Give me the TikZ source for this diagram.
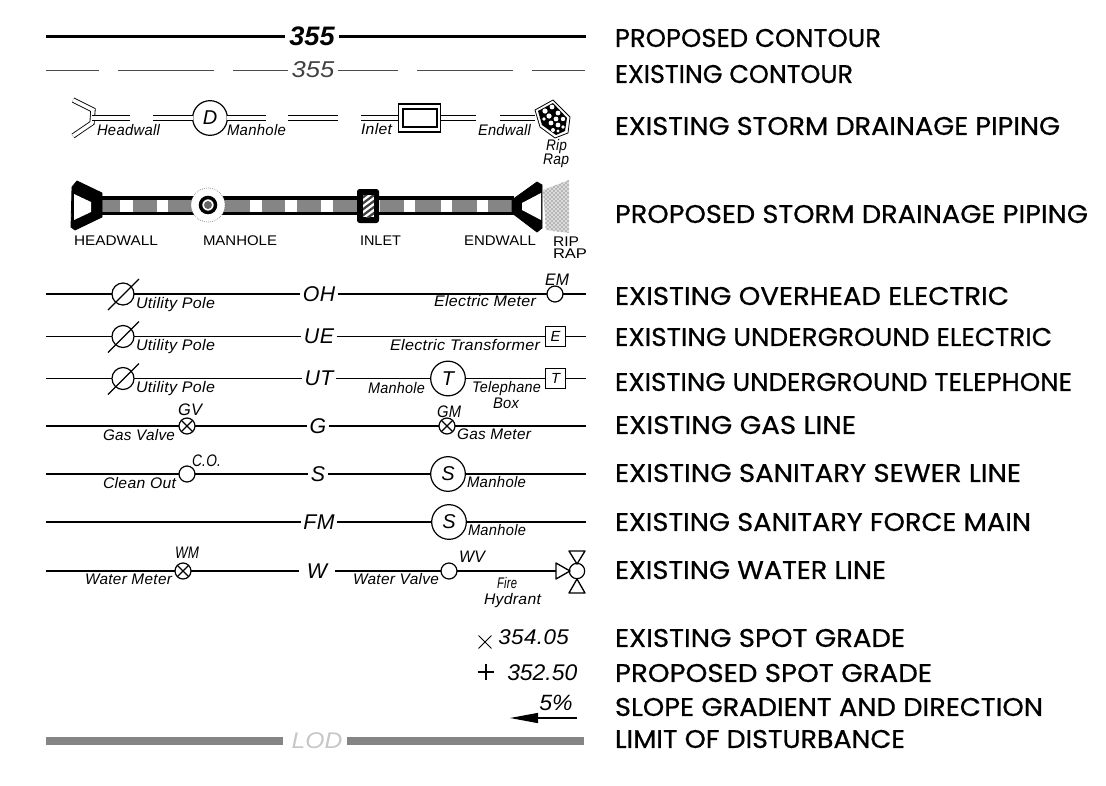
\documentclass[tikz,border=0pt]{standalone}
\usepackage{fontspec}
\usepackage{graphicx}
\usetikzlibrary{shapes.misc,arrows.meta,patterns}
\setmainfont{Liberation Sans}
\newfontfamily\handf[FakeBold=0.7]{Poppins}
\newfontfamily\labf[LetterSpace=2]{Liberation Sans}
\tikzset{
  plain/.style={line width=1pt,black},
  faint/.style={line width=.6pt,black!70},
  heavy/.style={line width=2pt,black},
  pipe/.style={double,double distance=2.6pt,line width=.65pt,black},
  symb/.style={draw=black,line width=.9pt,fill=white,circle,inner sep=0pt,outer sep=0pt,font=\labf\itshape\fontsize{15}{15}\selectfont},
  boxs/.style={draw=black,line width=.9pt,fill=white,rectangle,inner sep=0pt,outer sep=0pt,font=\labf\itshape\fontsize{11}{11}\selectfont},
  big/.style={inner sep=2pt,outer sep=0pt,font=\labf\itshape\fontsize{16}{16}\selectfont},
  txt/.style={inner sep=0pt,outer sep=0pt,anchor=base west},
  hand/.style={inner sep=0pt,outer sep=0pt,anchor=west},
  band/.style={fill=black!48,draw=none},
  solidk/.style={fill=black,draw=black,line width=.6pt,line join=round},
}
\newcommand\lab[6][11.5]{\pgfmathsetmacro\labw{(#4-#3)*0.75}%
  \node[txt] (#2) at (#3,{#5+4.5}) {\resizebox{\labw pt}{\height}{\labf\itshape\fontsize{#1}{#1}\selectfont #6}};}
\newcommand\capl[5]{\pgfmathsetmacro\labw{(#3-#2)*0.75}%
  \node[txt] (#1) at (#2,{#4+5}) {\resizebox{\labw pt}{\height}{\fontsize{10.5}{10.5}\selectfont #5}};}
\newcommand\rlab[4]{\pgfmathsetmacro\labw{(#2-615)*0.75}%
  \node[hand] (#1) at (615,#3) {\resizebox{\labw pt}{13.5pt}{\handf\fontsize{12}{12}\selectfont #4}};}
\newcommand\polesym[2]{\node[symb,minimum size=16.5pt] (#2) at (123,#1) {};
  \draw[plain] ([shift={(-15,16)}]#2.center) -- ([shift={(16,-15)}]#2.center);}
\newcommand\crosssym[3]{\node[symb,minimum size=12pt] (#1) at (#2,#3) {};
  \draw[plain] (#1.45) -- (#1.225) (#1.135) -- (#1.315);}
\begin{document}
\begin{tikzpicture}[x=0.75pt,y=-0.75pt]
\useasboundingbox (0,0) rectangle (1106,785);

% ---- contours
\coordinate (c1a) at (46,36.5); \coordinate (c1b) at (586,36.5);
\node[inner sep=3pt,outer sep=0pt] (c1t) at (312,36.5) {\resizebox{34pt}{14pt}{\bfseries\itshape 355}};
\draw[heavy] (c1a) -- (c1t) (c1t) -- (c1b);
\coordinate (c2a) at (46,70); \coordinate (c2b) at (99,70);
\coordinate (c2c) at (118,70); \coordinate (c2d) at (214,70);
\coordinate (c2e) at (233,70); \coordinate (c2g) at (398,70);
\coordinate (c2i) at (417,70);
\coordinate (c2j) at (513,70); \coordinate (c2k) at (532,70); \coordinate (c2l) at (585,70);
\node[inner sep=3pt,outer sep=0pt,text=black!75] (c2t) at (313,70) {\resizebox{32pt}{12pt}{\itshape 355}};
\draw[faint] (c2a) -- (c2b) (c2c) -- (c2d) (c2e) -- (c2t) (c2t) -- (c2g) (c2i) -- (c2j) (c2k) -- (c2l);

% ---- existing storm
\draw[pipe] (73,100) -- (93,110) -- (92,123) -- (73,136);
\coordinate (s0) at (92,118); \coordinate (s1) at (130,118); \coordinate (s2) at (153,118);
\node[symb,minimum size=26pt] (sD) at (210,118) {D};
\coordinate (s3) at (266,118); \coordinate (s4) at (288,118); \coordinate (s5) at (338,118);
\coordinate (s6) at (361,118);
\node[boxs,minimum width=32pt,minimum height=21pt] (sI) at (419.5,118) {};
\node[boxs,minimum width=25.5pt,minimum height=13.5pt] (sIi) at (420,118) {};
\coordinate (s7) at (476,118); \coordinate (s8) at (500,118); \coordinate (s9) at (535,118);
\draw[pipe] (s0) -- (s1) (s2) -- (sD) (sD) -- (s3) (s4) -- (s5) (s6) -- (sI) (sI) -- (s7) (s8) -- (s9);
\draw[plain,line width=.6pt,fill=white] (535,110) -- (553,100) -- (570,117) -- (568,133) -- (555,138) -- (540,127) -- cycle;
\fill[black] (538,111) -- (553,103) -- (567,118) -- (565,131) -- (556,135) -- (542,125) -- cycle;
\foreach \a/\b/\r in {545/111/2.6,552/107/2.4,558/113/2.4,563/119/2.2,549/116/2.6,556/119/2.4,544/119/1.8,551/123/2.4,558/125/2.4,563/127/1.8,553/130/2.0,558/131/1.6}
  \fill[white] (\a,\b) circle[radius=\r];
\lab{lHead}{97}{160}{131}{Headwall}
\lab{lMan}{227}{286}{131}{Manhole}
\lab{lIn}{361}{392}{130}{Inlet}
\lab{lEnd}{478}{531}{131}{Endwall}
\lab{lRip}{546}{567}{146}{Rip}
\lab{lRap}{543}{569}{160}{Rap}

% ---- proposed storm
\foreach \a/\b in {102/120,133/157,168/196,222/250,262/285,297/321,333/357,380/404,415/441,452/477,488/512}
  \fill[band] (\a,200) rectangle (\b,212);
\coordinate (pa) at (100,198); \coordinate (pb) at (514,198);
\coordinate (pc) at (100,213.5); \coordinate (pd) at (514,213.5);
\draw[line width=2.8pt] (pa) -- (pb) (pc) -- (pd);
\fill[white] (208,205) circle[radius=17];
\draw[line width=.5pt,black!60,densely dotted] (208,205) circle[radius=17];
\draw[line width=2.6pt] (208,205) circle[radius=7.5];
\fill[black!60] (208,205) circle[radius=4];
\draw[solidk] (72,187) -- (77,181) -- (102,193) -- (102,217) -- (75,230) -- (71,227) -- cycle;
\fill[white] (74,194) -- (91,202) -- (91,212) -- (74,220) -- cycle;
\fill[black,rounded corners=2pt] (357,189) rectangle (379,223);
\begin{scope}
\clip (363,195) rectangle (374,217);
\fill[white] (363,195) rectangle (374,217);
\foreach \k in {0,6,...,36} \draw[line width=1.7pt,black!75] (358,{195+\k}) -- (378,{180+\k});
\end{scope}
\draw[solidk] (512,200) -- (537,182) -- (542,185) -- (542,228) -- (537,232) -- (512,213) -- cycle;
\fill[white] (522,203) -- (541,193) -- (541,220) -- (522,210) -- cycle;
\fill[black!14] (543,190) -- (569,180) -- (569,233) -- (546,230) -- cycle;
\fill[pattern=crosshatch dots,pattern color=black!75] (543,190) -- (569,180) -- (569,233) -- (546,230) -- cycle;
\capl{lHEAD}{74}{158}{240}{HEADWALL}
\capl{lMAN}{203}{277}{240}{MANHOLE}
\capl{lINL}{360}{401}{240}{INLET}
\capl{lEND}{464}{536}{240}{ENDWALL}
\capl{lRIP}{553}{579}{241}{RIP}
\capl{lRAP}{553}{587}{253}{RAP}

% ---- overhead electric
\coordinate (e1a) at (46,294); \coordinate (e1b) at (586,294);
\polesym{294}{e1p}
\node[big] (e1t) at (319,294) {OH};
\node[symb,minimum size=12pt] (e1m) at (555,294) {};
\draw[plain] (e1a) -- (e1p) (e1p) -- (e1t) (e1t) -- (e1m) (e1m) -- (e1b);
\lab{e1u}{136}{215}{304}{Utility Pole}
\lab{e1l}{434}{536}{302}{Electric Meter}
\lab[12.5]{e1n}{545}{569}{281}{EM}

% ---- underground electric
\coordinate (e2a) at (46,336.5); \coordinate (e2b) at (586,336.5);
\polesym{336.5}{e2p}
\node[big] (e2t) at (319,336.5) {UE};
\node[boxs,minimum size=15.5pt] (e2m) at (555.5,336.5) {E};
\draw[plain] (e2a) -- (e2p) (e2p) -- (e2t) (e2t) -- (e2m) (e2m) -- (e2b);
\lab{e2u}{136}{215}{346}{Utility Pole}
\lab{e2l}{390}{540}{346}{Electric Transformer}

% ---- underground telephone
\coordinate (e3a) at (46,378.5); \coordinate (e3b) at (586,378.5);
\polesym{378.5}{e3p}
\node[big] (e3t) at (319,378.5) {UT};
\node[symb,minimum size=26pt] (e3c) at (448,378.5) {T};
\node[boxs,minimum size=15.5pt] (e3m) at (555.5,378.5) {T};
\draw[plain] (e3a) -- (e3p) (e3p) -- (e3t) (e3t) -- (e3c) (e3c) -- (e3m) (e3m) -- (e3b);
\lab{e3u}{136}{215}{388}{Utility Pole}
\lab{e3l}{368}{425}{389}{Manhole}
\lab{e3r}{472}{541}{388}{Telephane}
\lab{e3s}{493}{519}{404}{Box}

% ---- gas
\coordinate (g1a) at (46,426); \coordinate (g1b) at (586,426);
\crosssym{g1v}{187}{426}
\node[big] (g1t) at (318,426) {G};
\crosssym{g1m}{447}{426}
\draw[plain] (g1a) -- (g1v) (g1v) -- (g1t) (g1t) -- (g1m) (g1m) -- (g1b);
\lab[12.5]{g1n}{178}{202}{411}{GV}
\lab{g1l}{103}{175}{436}{Gas Valve}
\lab[12.5]{g1o}{437}{461}{413}{GM}
\lab{g1r}{457}{531}{435}{Gas Meter}

% ---- sewer
\coordinate (w1a) at (46,474); \coordinate (w1b) at (586,474);
\node[symb,minimum size=12pt] (w1c) at (187,474) {};
\node[big] (w1t) at (318,474) {S};
\node[symb,minimum size=26pt] (w1m) at (448,474) {S};
\draw[plain] (w1a) -- (w1c) (w1c) -- (w1t) (w1t) -- (w1m) (w1m) -- (w1b);
\lab[12.5]{w1n}{192}{221}{462}{C.O.}
\lab{w1l}{103}{176}{484}{Clean Out}
\lab{w1r}{467}{526}{483}{Manhole}

% ---- force main
\coordinate (f1a) at (46,522); \coordinate (f1b) at (586,522);
\node[big] (f1t) at (319,522) {FM};
\node[symb,minimum size=26pt] (f1m) at (449,522) {S};
\draw[plain] (f1a) -- (f1t) (f1t) -- (f1m) (f1m) -- (f1b);
\lab{f1r}{468}{526}{531}{Manhole}

% ---- water
\coordinate (h1a) at (46,571);
\crosssym{h1m}{183}{571}
\node[big,inner sep=6pt] (h1t) at (317,571) {W};
\node[symb,minimum size=12pt] (h1v) at (449,571) {};
\node[symb,minimum size=11.5pt] (h1h) at (577,571) {};
\coordinate (h1e) at (556,571);
\draw[plain] (h1a) -- (h1m) (h1m) -- (h1t) (h1t) -- (h1v) (h1v) -- (h1e);
\draw[plain,line join=round] (556,563) -- (556,579) -- (570,571) -- cycle;
\draw[plain,line join=round] (569,551) -- (585,551) -- (577,564) -- cycle;
\draw[plain,line join=round] (569,593) -- (585,593) -- (577,579) -- cycle;
\lab[12.5]{h1n}{175}{199}{554}{WM}
\lab{h1l}{85}{172}{580}{Water Meter}
\lab[12.5]{h1o}{459}{485}{558}{WV}
\lab{h1r}{353}{439}{580}{Water Valve}
\lab{h1f}{497}{517}{584}{Fire}
\lab{h1y}{484}{541}{600}{Hydrant}

% ---- spot grades, slope
\node[cross out,draw=black,line width=.7pt,minimum size=9pt,inner sep=0pt] (x1) at (485,642) {};
\node[inner sep=0pt,anchor=base west] (x1t) at (498,644) {\resizebox{53pt}{\height}{\labf\itshape\fontsize{16}{16}\selectfont 354.05}};
\node[cross out,draw=black,line width=1pt,rotate=45,minimum size=8pt,inner sep=0pt] (x2) at (486,672) {};
\node[inner sep=0pt,anchor=base west] (x2t) at (507,680) {\resizebox{52.5pt}{\height}{\itshape\fontsize{17}{17}\selectfont 352.50}};
\node[inner sep=0pt] (x3t) at (556,703) {\resizebox{25pt}{11.5pt}{\itshape 5\%}};
\coordinate (x3a) at (577,718); \coordinate (x3b) at (510,718);
\draw[line width=1pt,-{Triangle[length=21pt,width=7.5pt]}] (x3a) -- (x3b);

% ---- limit of disturbance
\fill[band] (46,737) rectangle (283,745);
\fill[band] (347,737) rectangle (584,745);
\node[inner sep=0pt,text=black!22] (lodt) at (317,741) {\resizebox{38pt}{\height}{\itshape\fontsize{17}{17}\selectfont LOD}};

% ---- right column
\rlab{r1}{881}{38}{PROPOSED CONTOUR}
\rlab{r2}{853}{74}{EXISTING CONTOUR}
\rlab{r3}{1060}{126}{EXISTING STORM DRAINAGE PIPING}
\rlab{r4}{1088}{214}{PROPOSED STORM DRAINAGE PIPING}
\rlab{r5}{1009}{296}{EXISTING OVERHEAD ELECTRIC}
\rlab{r6}{1052}{337}{EXISTING UNDERGROUND ELECTRIC}
\rlab{r7}{1072}{382}{EXISTING UNDERGROUND TELEPHONE}
\rlab{r8}{856}{425}{EXISTING GAS LINE}
\rlab{r9}{1021}{473}{EXISTING SANITARY SEWER LINE}
\rlab{r10}{1031}{522}{EXISTING SANITARY FORCE MAIN}
\rlab{r11}{886}{570}{EXISTING WATER LINE}
\rlab{r12}{905}{638}{EXISTING SPOT GRADE}
\rlab{r13}{932}{673}{PROPOSED SPOT GRADE}
\rlab{r14}{1043}{707}{SLOPE GRADIENT AND DIRECTION}
\rlab{r15}{905}{739}{LIMIT OF DISTURBANCE}
\end{tikzpicture}
\end{document}
